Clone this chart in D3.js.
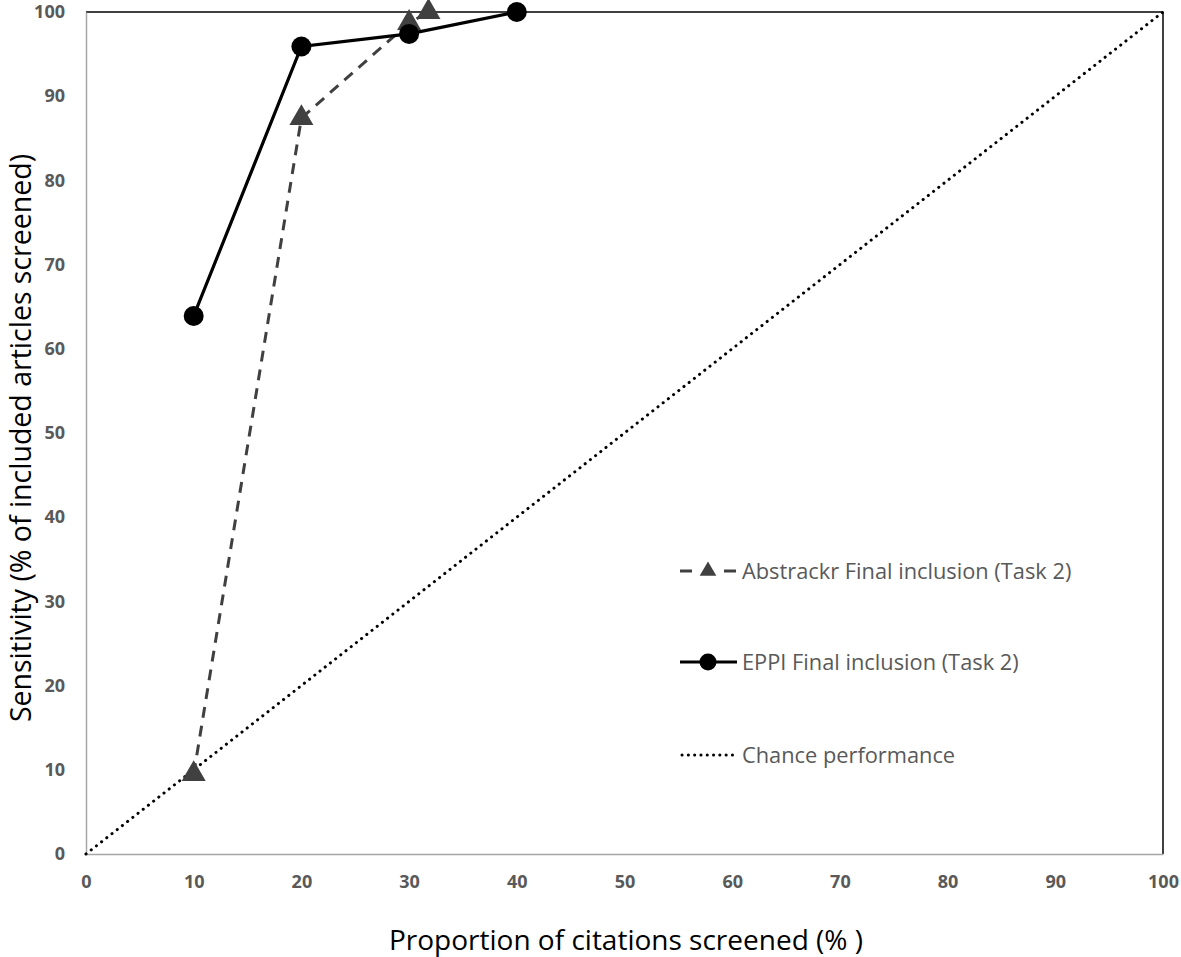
<!DOCTYPE html>
<html>
<head>
<meta charset="utf-8">
<script src="https://cdn.jsdelivr.net/npm/d3@7"></script>
<style>
  body { margin: 0; background: #fff; }
  svg { display: block; }
</style>
</head>
<body>
<svg id="chart" width="1181" height="957"></svg>
<script>
// values
const abstrackrX = [10, 20, 30, 31.8];
const abstrackrY = [9.5, 87.4, 98.7, 100];
const eppiX = [10, 20, 30, 40];
const eppiY = [63.9, 95.9, 97.4, 100];
const chanceX = [0, 100];
const chanceY = [0, 100];
const xTicks = [0, 10, 20, 30, 40, 50, 60, 70, 80, 90, 100];
const yTicks = [0, 10, 20, 30, 40, 50, 60, 70, 80, 90, 100];
const legendLabels = ['Abstrackr Final inclusion (Task 2)', 'EPPI Final inclusion (Task 2)', 'Chance performance'];

const svg = d3.select('#chart');
const plotL = 86, plotR = 1163, plotT = 12, plotB = 854;
const font = "'Open Sans', 'Liberation Sans', sans-serif";

const x = d3.scaleLinear().domain([0, 100]).range([plotL, plotR]);
const y = d3.scaleLinear().domain([0, 100]).range([plotB, plotT]);

const zip = (xs, ys) => xs.map((v, i) => [v, ys[i]]);

// frame: gray left/bottom, black top/right
svg.append('line').attr('x1', plotL).attr('x2', plotR).attr('y1', plotT).attr('y2', plotT)
    .attr('stroke', '#000').attr('stroke-width', 1.5);
svg.append('line').attr('x1', plotR).attr('x2', plotR).attr('y1', plotT).attr('y2', plotB)
    .attr('stroke', '#000').attr('stroke-width', 1.5);

let xAxis = svg.append('g')
    .attr('transform', 'translate(0,' + plotB + ')')
    .call(d3.axisBottom(x).tickValues(xTicks).tickSize(0).tickPadding(21));
let yAxis = svg.append('g')
    .attr('transform', 'translate(' + plotL + ',0)')
    .call(d3.axisLeft(y).tickValues(yTicks).tickSize(0).tickPadding(21));
[xAxis, yAxis].forEach(a => {
    a.select('.domain').attr('stroke', '#a6a6a6').attr('stroke-width', 1.5);
    a.selectAll('text')
        .attr('fill', '#595959')
        .style('font-family', font)
        .style('font-weight', 'bold')
        .style('font-size', '18px');
});

// chance line
let line = d3.line().x(d => x(d[0])).y(d => y(d[1]));
svg.append('path')
    .attr('d', line(zip(chanceX, chanceY)))
    .attr('fill', 'none')
    .attr('stroke', '#000')
    .attr('stroke-width', 3)
    .attr('stroke-linecap', 'round')
    .attr('stroke-dasharray', '0.1,6.5');

// abstrackr series
svg.append('path')
    .attr('d', line(zip(abstrackrX, abstrackrY)))
    .attr('fill', 'none')
    .attr('stroke', '#404040')
    .attr('stroke-width', 3)
    .attr('stroke-dasharray', '11,8');
let tri = d3.symbol().type(d3.symbolTriangle).size(250);
svg.selectAll('.tri')
    .data(zip(abstrackrX, abstrackrY))
    .enter()
    .append('path')
    .attr('class', 'tri')
    .attr('d', tri)
    .attr('transform', d => 'translate(' + x(d[0]) + ',' + y(d[1]) + ')')
    .attr('fill', '#404040');

// eppi series
svg.append('path')
    .attr('d', line(zip(eppiX, eppiY)))
    .attr('fill', 'none')
    .attr('stroke', '#000')
    .attr('stroke-width', 3.2);
svg.selectAll('.dot')
    .data(zip(eppiX, eppiY))
    .enter()
    .append('circle')
    .attr('class', 'dot')
    .attr('cx', d => x(d[0]))
    .attr('cy', d => y(d[1]))
    .attr('r', 10)
    .attr('fill', '#000');

// legend
let legendY = [571, 662, 755];
let lg = svg.append('g');
legendLabels.forEach((label, i) => {
    let g = lg.append('g').attr('transform', 'translate(680,' + legendY[i] + ')');
    if (i === 0) {
        g.append('line').attr('x1', 0).attr('x2', 12).attr('y1', 0).attr('y2', 0)
            .attr('stroke', '#404040').attr('stroke-width', 3);
        g.append('line').attr('x1', 44).attr('x2', 56).attr('y1', 0).attr('y2', 0)
            .attr('stroke', '#404040').attr('stroke-width', 3);
        g.append('path').attr('d', d3.symbol().type(d3.symbolTriangle).size(120))
            .attr('transform', 'translate(28,0)').attr('fill', '#404040');
    } else if (i === 1) {
        g.append('line').attr('x1', 0).attr('x2', 57).attr('y1', 0).attr('y2', 0)
            .attr('stroke', '#000').attr('stroke-width', 3);
        g.append('circle').attr('cx', 28).attr('cy', 0).attr('r', 8.5).attr('fill', '#000');
    } else {
        g.append('line').attr('x1', 2).attr('x2', 53).attr('y1', 0).attr('y2', 0)
            .attr('stroke', '#000').attr('stroke-width', 3)
            .attr('stroke-linecap', 'round').attr('stroke-dasharray', '0.1,6.2');
    }
    g.append('text')
        .attr('x', 62)
        .attr('y', 0)
        .attr('dy', '0.35em')
        .attr('fill', '#595959')
        .style('font-family', font)
        .style('font-size', '21.8px')
        .text(label);
});

// axis titles
svg.append('text')
    .attr('x', 626)
    .attr('y', 950)
    .attr('text-anchor', 'middle')
    .attr('fill', '#000')
    .style('font-family', font)
    .style('font-size', '28px')
    .text('Proportion of citations screened (% )');
svg.append('text')
    .attr('transform', 'translate(31,' + 438 + ') rotate(-90)')
    .attr('text-anchor', 'middle')
    .attr('fill', '#000')
    .style('font-family', font)
    .style('font-size', '28.5px')
    .text('Sensitivity (% of included articles screened)');
</script>
</body>
</html>
